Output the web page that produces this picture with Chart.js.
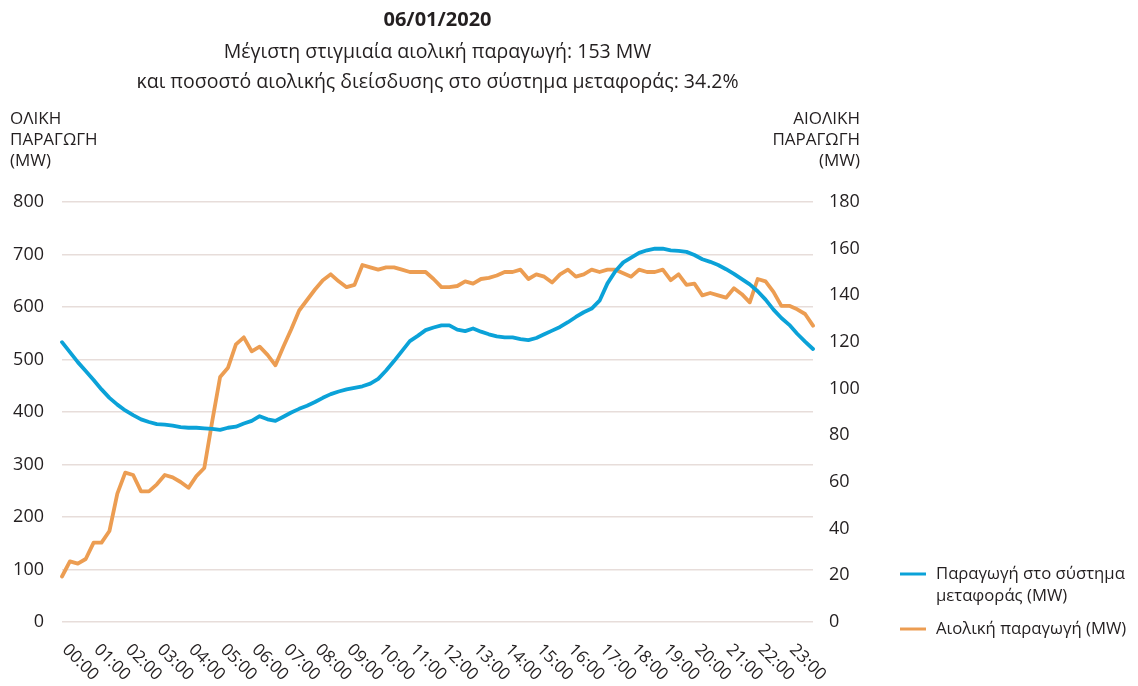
<!DOCTYPE html>
<html>
<head>
<meta charset="utf-8">
<script src="https://cdn.jsdelivr.net/npm/chart.js@4.4.1/dist/chart.umd.min.js"></script>
<style>
  body { margin: 0; background: #fff; }
  #wrap { width: 1138px; height: 686px; }
</style>
</head>
<body>
<div id="wrap"><canvas id="windChart" width="1138" height="686"></canvas></div>
<script>
// hour ticks shown on the time axis
var hourLabels = ['00:00', '01:00', '02:00', '03:00', '04:00', '05:00', '06:00', '07:00',
  '08:00', '09:00', '10:00', '11:00', '12:00', '13:00', '14:00', '15:00',
  '16:00', '17:00', '18:00', '19:00', '20:00', '21:00', '22:00', '23:00'];
var quarterMarks = ['00', '15', '30', '45'];

// total production on the transmission system (MW), 15-minute values
var totalProduction = [
  533, 514, 495, 478, 461, 443, 427, 414, 403, 394, 386, 381,
  377, 376, 374, 371, 370, 370, 369, 368, 366, 370, 372, 378,
  383, 392, 386, 383, 391, 399, 406, 412, 419, 427, 434, 439,
  443, 446, 449, 454, 463, 479, 497, 516, 535, 545, 556, 561,
  565, 565, 557, 554, 559, 553, 548, 544, 542, 542, 539, 537,
  541, 548, 555, 562, 571, 581, 590, 597, 612, 645, 668, 685,
  694, 703, 708, 711, 711, 708, 707, 705, 699, 691, 686, 680,
  672, 663, 653, 643, 630, 614, 595, 579, 566, 549, 534, 520
];

// wind production (MW), 15-minute values
var windProduction = [
  19.5, 26, 25, 27, 34, 34, 39, 55, 64, 63, 56, 56,
  59, 63, 62, 60, 57.5, 62.5, 66, 86, 105, 109, 119, 122,
  116, 118, 114.5, 110, 118, 125.5, 133.5, 138, 142.5, 146.5, 149, 146,
  143.5, 144.5, 153, 152, 151, 152, 152, 151, 150, 150, 150, 147,
  143.5, 143.5, 144, 146, 145, 147, 147.5, 148.5, 150, 150, 151, 147,
  149, 148, 145.5, 149, 151, 148, 149, 151, 150, 151, 151, 149.5,
  148, 151, 150, 150, 151, 146.5, 149, 144.5, 145, 140, 141, 140,
  139, 143, 140.5, 137, 147, 146, 141.5, 135.5, 135.5, 134, 132, 127
];

var leftTicks = [0, 100, 200, 300, 400, 500, 600, 700, 800];
var rightTicks = [0, 20, 40, 60, 80, 100, 120, 140, 160, 180];

var slotLabels = [];
hourLabels.forEach(function (h) {
  quarterMarks.forEach(function (q) { slotLabels.push(h.slice(0, 3) + q); });
});

var BLUE = '#0ba2d8';
var ORANGE = '#ec9d52';
var INK = '#231f20';
var FONT = '"Open Sans", "Noto Sans", sans-serif';

// header, axis captions, rotated hour labels and legend
var decorations = {
  id: 'decorations',
  afterDraw: function (chart) {
    var ctx = chart.ctx;
    var area = chart.chartArea;
    var cx = (area.left + area.right) / 2;
    ctx.save();
    ctx.fillStyle = INK;
    ctx.textBaseline = 'middle';

    ctx.textAlign = 'center';
    ctx.font = 'bold 20px ' + FONT;
    ctx.fillText('06/01/2020', cx, 20);
    ctx.font = '19.5px ' + FONT;
    ctx.fillText('Μέγιστη στιγμιαία αιολική παραγωγή: 153 MW', cx, 52);
    ctx.fillText('και ποσοστό αιολικής διείσδυσης στο σύστημα μεταφοράς: 34.2%', cx, 82);

    ctx.font = '17px ' + FONT;
    ctx.textAlign = 'left';
    ['ΟΛΙΚΗ', 'ΠΑΡΑΓΩΓΗ', '(MW)'].forEach(function (t, i) {
      ctx.fillText(t, 10, 119 + i * 21);
    });
    ctx.textAlign = 'right';
    ['ΑΙΟΛΙΚΗ', 'ΠΑΡΑΓΩΓΗ', '(MW)'].forEach(function (t, i) {
      ctx.fillText(t, 860, 119 + i * 21);
    });

    // hour labels, turned clockwise under the plot
    var xs = chart.scales.x;
    ctx.font = '17px ' + FONT;
    ctx.textAlign = 'left';
    hourLabels.forEach(function (h, i) {
      var px = xs.getPixelForValue(i * 4);
      ctx.save();
      ctx.translate(px + 3, area.bottom + 25);
      ctx.rotate(Math.PI / 4);
      ctx.fillText(h, 0, 0);
      ctx.restore();
    });

    // legend
    var items = [
      { color: BLUE, lines: ['Παραγωγή στο σύστημα', 'μεταφοράς (MW)'], y: 574 },
      { color: ORANGE, lines: ['Αιολική παραγωγή (MW)'], y: 629 }
    ];
    ctx.font = '16.7px ' + FONT;
    ctx.textAlign = 'left';
    items.forEach(function (it) {
      ctx.strokeStyle = it.color;
      ctx.lineWidth = 3;
      ctx.beginPath();
      ctx.moveTo(900, it.y);
      ctx.lineTo(926, it.y);
      ctx.stroke();
      it.lines.forEach(function (t, j) {
        ctx.fillText(t, 936, it.y + j * 22);
      });
    });
    ctx.restore();
  }
};

var myChart = new Chart(document.getElementById('windChart'), {
  type: 'line',
  data: {
    labels: slotLabels,
    datasets: [
      {
        label: 'Παραγωγή στο σύστημα μεταφοράς (MW)',
        data: totalProduction,
        yAxisID: 'yTotal',
        borderColor: BLUE,
        borderWidth: 3.8,
        pointRadius: 0,
        tension: 0,
        borderJoinStyle: 'round',
        borderCapStyle: 'round'
      },
      {
        label: 'Αιολική παραγωγή (MW)',
        data: windProduction,
        yAxisID: 'yWind',
        borderColor: ORANGE,
        borderWidth: 3.8,
        pointRadius: 0,
        tension: 0,
        borderJoinStyle: 'round',
        borderCapStyle: 'round'
      }
    ]
  },
  options: {
    responsive: false,
    animation: false,
    layout: { padding: { top: 202, right: 265, bottom: 0, left: 0 } },
    plugins: {
      legend: { display: false },
      tooltip: { enabled: false }
    },
    scales: {
      x: {
        offset: false,
        grid: { display: false },
        border: { display: false },
        ticks: { display: false },
        afterFit: function (scale) { scale.height = 64; }
      },
      yTotal: {
        position: 'left',
        min: leftTicks[0],
        max: leftTicks[leftTicks.length - 1],
        afterBuildTicks: function (scale) {
          scale.ticks = leftTicks.map(function (v) { return { value: v }; });
        },
        grid: { color: '#e7ddda', lineWidth: 1.5, drawTicks: false },
        border: { display: false },
        ticks: { padding: 18, color: INK, font: { family: FONT, size: 18 } },
        afterFit: function (scale) { scale.width = 62; }
      },
      yWind: {
        position: 'right',
        min: rightTicks[0],
        max: rightTicks[rightTicks.length - 1],
        afterBuildTicks: function (scale) {
          scale.ticks = rightTicks.map(function (v) { return { value: v }; });
        },
        grid: { display: false, drawTicks: false },
        border: { display: false },
        ticks: { padding: 16, color: INK, font: { family: FONT, size: 18 } },
        afterFit: function (scale) { scale.width = 60; }
      }
    }
  },
  plugins: [decorations]
});
</script>
</body>
</html>
